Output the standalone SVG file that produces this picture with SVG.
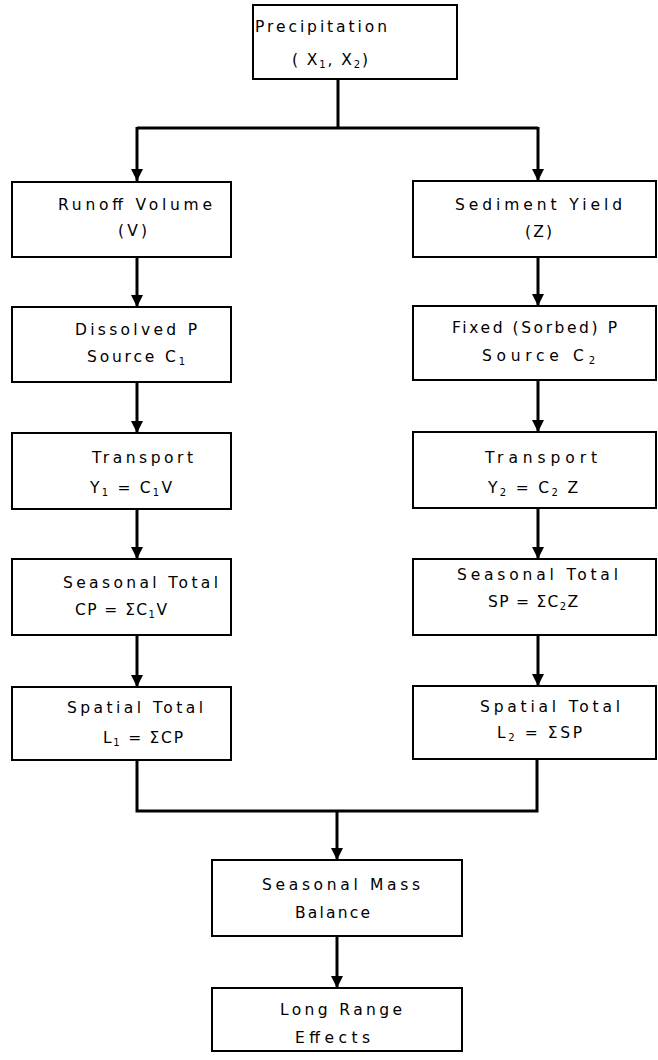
<svg xmlns="http://www.w3.org/2000/svg" width="658" height="1060" viewBox="0 0 658 1060">
  <defs>
    <style>
      .box { fill: #ffffff; stroke: #000000; stroke-width: 2; }
      .lbl { font-family: "DejaVu Sans", "Liberation Sans", sans-serif; font-size: 15.5px; fill: #000000; }
      .sub { font-size: 10px; }
      .wire { fill: none; stroke: #000000; stroke-width: 3; stroke-linejoin: miter; }
    </style>
    <marker id="arrow" viewBox="0 0 12 12" refX="12" refY="6" markerWidth="12" markerHeight="12" markerUnits="userSpaceOnUse" orient="auto">
      <path d="M0,0 L12,6 L0,12 Z" fill="#000000"/>
    </marker>
  </defs>

  <rect width="658" height="1060" fill="#ffffff"/>

  <!-- connectors -->
  <g id="connectors">
    <polyline class="wire" points="338,79 338,128"/>
    <polyline class="wire" points="137,128 538,128"/>
    <line class="wire" x1="137" y1="127" x2="137" y2="181" marker-end="url(#arrow)"/>
    <line class="wire" x1="538" y1="127" x2="538" y2="181" marker-end="url(#arrow)"/>

    <line class="wire" x1="137" y1="257" x2="137" y2="307" marker-end="url(#arrow)"/>
    <line class="wire" x1="538" y1="257" x2="538" y2="306" marker-end="url(#arrow)"/>

    <line class="wire" x1="137" y1="382" x2="137" y2="433" marker-end="url(#arrow)"/>
    <line class="wire" x1="538" y1="380" x2="538" y2="432" marker-end="url(#arrow)"/>

    <line class="wire" x1="137" y1="509" x2="137" y2="559" marker-end="url(#arrow)"/>
    <line class="wire" x1="538" y1="508" x2="538" y2="559" marker-end="url(#arrow)"/>

    <line class="wire" x1="137" y1="635" x2="137" y2="687" marker-end="url(#arrow)"/>
    <line class="wire" x1="538" y1="635" x2="538" y2="686" marker-end="url(#arrow)"/>

    <polyline class="wire" points="137,760 137,811 537,811 537,759"/>
    <line class="wire" x1="337" y1="811" x2="337" y2="860" marker-end="url(#arrow)"/>
    <line class="wire" x1="337" y1="936" x2="337" y2="988" marker-end="url(#arrow)"/>
  </g>

  <!-- source -->
  <g id="precipitation">
    <rect class="box" x="253" y="5" width="204" height="74"/>
    <text class="lbl" x="255" y="32" textLength="132" lengthAdjust="spacing">Precipitation</text>
    <text class="lbl" x="292" y="65" textLength="76" lengthAdjust="spacing">( X<tspan class="sub" dy="3">1</tspan><tspan dy="-3">, X</tspan><tspan class="sub" dy="3">2</tspan><tspan dy="-3">)</tspan></text>
  </g>

  <!-- dissolved branch -->
  <g id="runoff-volume">
    <rect class="box" x="12" y="182" width="219" height="75"/>
    <text class="lbl" x="58" y="210" textLength="154" lengthAdjust="spacing">Runoff Volume</text>
    <text class="lbl" x="118" y="236" textLength="29" lengthAdjust="spacing">(V)</text>
  </g>
  <g id="dissolved-p">
    <rect class="box" x="12" y="307" width="219" height="75"/>
    <text class="lbl" x="75" y="335" textLength="122" lengthAdjust="spacing">Dissolved P</text>
    <text class="lbl" x="87" y="362" textLength="98" lengthAdjust="spacing">Source C<tspan class="sub" dy="3">1</tspan></text>
  </g>
  <g id="transport-1">
    <rect class="box" x="12" y="433" width="219" height="76"/>
    <text class="lbl" x="92" y="463" textLength="101" lengthAdjust="spacing">Transport</text>
    <text class="lbl" x="90" y="493" textLength="82" lengthAdjust="spacing">Y<tspan class="sub" dy="3">1</tspan><tspan dy="-3"> = C</tspan><tspan class="sub" dy="3">1</tspan><tspan dy="-3">V</tspan></text>
  </g>
  <g id="seasonal-total-1">
    <rect class="box" x="12" y="559" width="219" height="76"/>
    <text class="lbl" x="63" y="588" textLength="155" lengthAdjust="spacing">Seasonal Total</text>
    <text class="lbl" x="75" y="615" textLength="92" lengthAdjust="spacing">CP = ΣC<tspan class="sub" dy="3">1</tspan><tspan dy="-3">V</tspan></text>
  </g>
  <g id="spatial-total-1">
    <rect class="box" x="12" y="687" width="219" height="73"/>
    <text class="lbl" x="67" y="713" textLength="136" lengthAdjust="spacing">Spatial Total</text>
    <text class="lbl" x="103" y="743" textLength="80" lengthAdjust="spacing">L<tspan class="sub" dy="3">1</tspan><tspan dy="-3"> = ΣCP</tspan></text>
  </g>

  <!-- sorbed branch -->
  <g id="sediment-yield">
    <rect class="box" x="413" y="181" width="243" height="76"/>
    <text class="lbl" x="455" y="210" textLength="167" lengthAdjust="spacing">Sediment Yield</text>
    <text class="lbl" x="525" y="237" textLength="27" lengthAdjust="spacing">(Z)</text>
  </g>
  <g id="fixed-p">
    <rect class="box" x="413" y="306" width="243" height="74"/>
    <text class="lbl" x="452" y="333" textLength="165" lengthAdjust="spacing">Fixed (Sorbed) P</text>
    <text class="lbl" x="482" y="361" textLength="113" lengthAdjust="spacing">Source C<tspan class="sub" dy="3">2</tspan></text>
  </g>
  <g id="transport-2">
    <rect class="box" x="413" y="432" width="243" height="76"/>
    <text class="lbl" x="485" y="463" textLength="112" lengthAdjust="spacing">Transport</text>
    <text class="lbl" x="488" y="493" textLength="90" lengthAdjust="spacing">Y<tspan class="sub" dy="3">2</tspan><tspan dy="-3"> = C</tspan><tspan class="sub" dy="3">2</tspan><tspan dy="-3"> Z</tspan></text>
  </g>
  <g id="seasonal-total-2">
    <rect class="box" x="413" y="559" width="243" height="76"/>
    <text class="lbl" x="457" y="580" textLength="161" lengthAdjust="spacing">Seasonal Total</text>
    <text class="lbl" x="488" y="607" textLength="90" lengthAdjust="spacing">SP = ΣC<tspan class="sub" dy="3">2</tspan><tspan dy="-3">Z</tspan></text>
  </g>
  <g id="spatial-total-2">
    <rect class="box" x="413" y="686" width="243" height="73"/>
    <text class="lbl" x="480" y="712" textLength="140" lengthAdjust="spacing">Spatial Total</text>
    <text class="lbl" x="497" y="738" textLength="85" lengthAdjust="spacing">L<tspan class="sub" dy="3">2</tspan><tspan dy="-3"> = ΣSP</tspan></text>
  </g>

  <!-- combined outputs -->
  <g id="seasonal-mass-balance">
    <rect class="box" x="212" y="860" width="250" height="76"/>
    <text class="lbl" x="262" y="890" textLength="158" lengthAdjust="spacing">Seasonal Mass</text>
    <text class="lbl" x="295" y="918" textLength="75" lengthAdjust="spacing">Balance</text>
  </g>
  <g id="long-range-effects">
    <rect class="box" x="212" y="988" width="250" height="63"/>
    <text class="lbl" x="280" y="1015" textLength="122" lengthAdjust="spacing">Long Range</text>
    <text class="lbl" x="295" y="1043" textLength="75" lengthAdjust="spacing">Effects</text>
  </g>
</svg>
